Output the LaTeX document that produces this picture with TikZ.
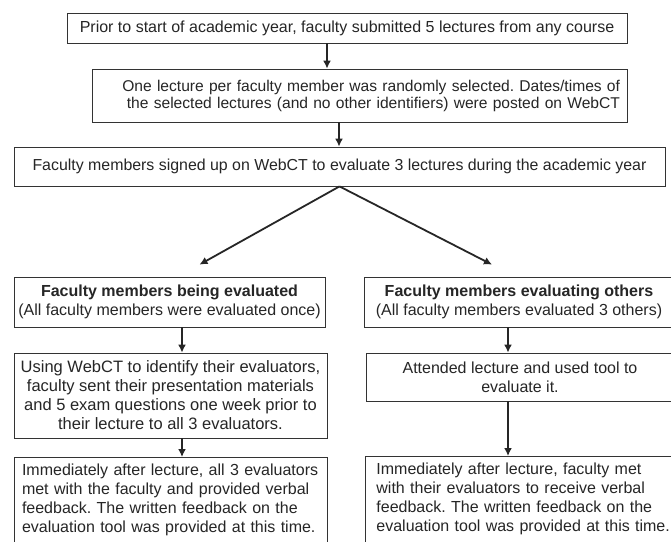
\documentclass[tikz,border=0pt]{standalone}
\usepackage{fontspec}
\setmainfont{Liberation Sans}
\frenchspacing
\usetikzlibrary{arrows.meta}

\begin{document}
\begin{tikzpicture}[x=1pt, y=-1pt,
                    box/.style={draw=black!80, line width=0.8pt, inner sep=0pt, text=black!85,
                                font=\fontsize{16}{19}\selectfont},
                    flow/.style={-{Latex[length=8pt,width=8pt]}, line width=1.8pt, black!85}
                    ]
    \useasboundingbox (0,0) rectangle (671,541);
    \clip (0,0) rectangle (671,541);
    \fill[white] (0,0) rectangle (671,541);
    % top column
    \node[box, minimum width=560, minimum height=30] (start) at (347,28)
        {Prior to start of academic year, faculty submitted 5 lectures from any course};
    \node[box, minimum width=535, minimum height=53, text width=521, align=right,
          font=\fontsize{15.6}{17}\selectfont] (select) at (359.5,95.5)
        {One lecture per faculty member was randomly selected. Dates/times of\\
         the selected lectures (and no other identifiers) were posted on WebCT};
    \node[box, minimum width=651, minimum height=39, font=\fontsize{15.9}{19}\selectfont] (signup) at (339.5,166.5)
        {Faculty members signed up on WebCT to evaluate 3 lectures during the academic year};
    % left column
    \node[box, minimum width=311, minimum height=50, align=center] (beingev) at (169.5,302)
        {\textbf{Faculty members being evaluated}\\(All faculty members were evaluated once)};
    \node[box, minimum width=313, minimum height=85, align=center, font=\fontsize{16.5}{19}\selectfont] (sendmat) at (170.5,395.5)
        {Using WebCT to identify their evaluators,\\faculty sent their presentation materials\\
         and 5 exam questions one week prior to\\their lecture to all 3 evaluators.};
    \node[box, anchor=north, inner xsep=8pt, inner ysep=6pt, text width=297, align=left] (metleft) at (170.5,457)
        {Immediately after lecture, all 3 evaluators\\met with the faculty and provided verbal\\
         feedback. The written feedback on the\\evaluation tool was provided at this time.\rule[-16pt]{0pt}{16pt}};
    % right column
    \node[box, minimum width=310, minimum height=50, align=center] (evothers) at (519,302)
        {\textbf{Faculty members evaluating others}\\(All faculty members evaluated 3 others)};
    \node[box, minimum width=308, minimum height=48, align=center] (attend) at (520,377)
        {Attended lecture and used tool to\\evaluate it.};
    \node[box, anchor=north west, inner xsep=11pt, inner ysep=6pt, text width=300, align=left] (metright) at (365,456)
        {Immediately after lecture, faculty met\\with their evaluators to receive verbal\\
         feedback. The written feedback on the\\evaluation tool was provided at this time.\rule[-16pt]{0pt}{16pt}};
    % arrows
    \draw[flow] ([xshift=-20]start.south) -- ([xshift=-20]start.south |- select.north);
    \draw[flow] ([xshift=-20.5]select.south) -- ([xshift=-20.5]select.south |- signup.north);
    \draw[flow] (signup.south) -- ([shift={(30,-12)}]beingev.north);
    \draw[flow] (signup.south) -- ([shift={(-27,-12)}]evothers.north);
    \draw[flow] ([xshift=12.5]beingev.south) -- ([xshift=12.5]beingev.south |- sendmat.north);
    \draw[flow] ([xshift=11.5]sendmat.south) -- ([xshift=11.5]sendmat.south |- metleft.north);
    \draw[flow] ([xshift=-11]evothers.south) -- ([xshift=-11]evothers.south |- attend.north);
    \draw[flow] ([xshift=-12]attend.south) -- ([xshift=-12]attend.south |- metright.north);
\end{tikzpicture}
\end{document}
